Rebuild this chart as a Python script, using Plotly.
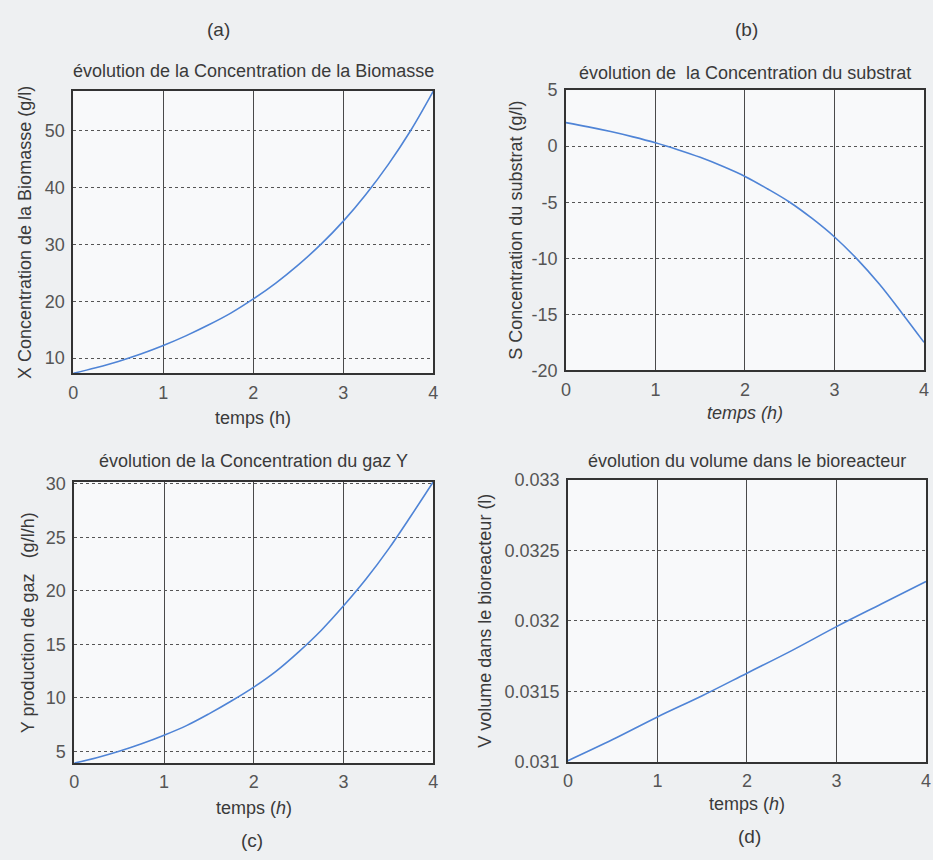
import plotly.graph_objects as go

# ---------------- data ----------------
t = [0, 0.25, 0.5, 0.75, 1, 1.25, 1.5, 1.75, 2, 2.25, 2.5, 2.75, 3, 3.25, 3.5, 3.75, 4]
biomasse = [7.3, 8.3, 9.4, 10.7, 12.2, 13.9, 15.8, 17.9, 20.4, 23.2, 26.4, 30.0, 34.1, 38.8, 44.1, 50.1, 57.0]
substrat = [2.1, 1.72, 1.3, 0.83, 0.3, -0.32, -1.0, -1.8, -2.7, -3.8, -5.0, -6.45, -8.1, -10.05, -12.3, -14.85, -17.5]
gaz = [3.9, 4.4, 5.0, 5.7, 6.5, 7.4, 8.5, 9.7, 11.0, 12.5, 14.3, 16.3, 18.6, 21.1, 23.9, 27.0, 30.2]
t_vol = [0, 0.5, 1, 1.5, 2, 2.5, 3, 3.5, 4]
volume = [0.03101, 0.03116, 0.03132, 0.03147, 0.03163, 0.03179, 0.03196, 0.03212, 0.03228]

x_ticks = [0, 1, 2, 3, 4]
x_ticklabels = ["0", "1", "2", "3", "4"]
a_ticks = [10, 20, 30, 40, 50]
b_ticks = [-20, -15, -10, -5, 0, 5]
c_ticks = [5, 10, 15, 20, 25, 30]
d_ticks = [0.031, 0.0315, 0.032, 0.0325, 0.033]
d_ticklabels = ["0.031", "0.0315", "0.032", "0.0325", "0.033"]

titles = ["évolution de la Concentration de la Biomasse",
          "évolution de  la Concentration du substrat",
          "évolution de la Concentration du gaz Y",
          "évolution du volume dans le bioreacteur"]
ylabels = ["X Concentration de la Biomasse (g/l)",
           "S Concentration du substrat (g/l)",
           "Y production de gaz   (g/l/h)",
           "V volume dans le bioreacteur (l)"]
xlabels = ["temps (h)", "<i>temps (h)</i>", "temps (<i>h</i>)", "temps (<i>h</i>)"]
panel_tags = ["(a)", "(b)", "(c)", "(d)"]

# ---------------- layout geometry ----------------
W, H = 933, 860
FONT = "Liberation Sans Narrow, Liberation Sans, Arial, sans-serif"
LINE = "#4f84d6"
TXT = "#3a3a3a"

def px_x(v):
    return v / W

def px_y(v):
    return 1 - v / H

# pixel boxes: (left, right, top, bottom)
boxes = [(69, 433, 83, 372), (567, 929, 82, 369), (70, 433, 483, 771), (569, 931, 481, 770)]

fig = go.Figure()
series = [(t, biomasse), (t, substrat), (t, gaz), (t_vol, volume)]
for i, (xs, ys) in enumerate(series):
    fig.add_trace(go.Scatter(x=xs, y=ys, mode="lines", line=dict(color=LINE, width=1.6, shape="spline"),
                             xaxis="x" if i == 0 else f"x{i+1}",
                             yaxis="y" if i == 0 else f"y{i+1}", showlegend=False))

yranges = [[7.3, 57.0], [-20, 5], [3.9, 30.2], [0.031, 0.033]]
ytickvals = [a_ticks, b_ticks, c_ticks, d_ticks]
yticktexts = [[str(v) for v in a_ticks], [str(v) for v in b_ticks], [str(v) for v in c_ticks], d_ticklabels]

layout = dict(width=W, height=H, margin=dict(l=0, r=0, t=0, b=0),
              paper_bgcolor="#eef0f2", plot_bgcolor="#f8f9fa",
              font=dict(family=FONT, color=TXT, size=18), showlegend=False)

annotations = []
xlabel_off = [46, 44, 46, 43]
title_y = [62, 65, 462, 462]
ylab_x = [20, 517, 24, 485]
for i, (l, r, tp, bt) in enumerate(boxes):
    sx = "" if i == 0 else str(i + 1)
    layout[f"xaxis{sx}"] = dict(domain=[px_x(l), px_x(r)], range=[0, 4], anchor=f"y{sx}",
                                tickvals=x_ticks, ticktext=x_ticklabels,
                                showgrid=True, gridcolor="#4a4a4a", gridwidth=1.3,
                                showline=True, linecolor="#333333", linewidth=1.6, mirror=True,
                                zeroline=False, ticks="", ticklabelstandoff=2,
                                tickfont=dict(size=18, color="#555555", family=FONT))
    layout[f"yaxis{sx}"] = dict(domain=[px_y(bt), px_y(tp)], range=yranges[i], anchor=f"x{sx}",
                                tickvals=ytickvals[i], ticktext=yticktexts[i],
                                showgrid=True, gridcolor="#555555", gridwidth=1.2, griddash="dot",
                                showline=True, linecolor="#333333", linewidth=1.6, mirror=True,
                                zeroline=False, ticks="", ticklabelstandoff=3,
                                tickfont=dict(size=18, color="#555555", family=FONT))
    cx = (l + r) / 2
    cy = (tp + bt) / 2
    annotations.append(dict(text=titles[i], x=px_x(cx), y=px_y(title_y[i]), xref="paper", yref="paper",
                            showarrow=False, font=dict(size=18, color=TXT, family=FONT),
                            xanchor="center", yanchor="middle"))
    annotations.append(dict(text=xlabels[i], x=px_x(cx), y=px_y(bt + xlabel_off[i]), xref="paper", yref="paper",
                            showarrow=False, font=dict(size=18, color=TXT, family=FONT),
                            xanchor="center", yanchor="middle"))
    annotations.append(dict(text=ylabels[i], x=px_x(ylab_x[i]), y=px_y(cy), xref="paper", yref="paper",
                            showarrow=False, textangle=-90, font=dict(size=18, color=TXT, family=FONT),
                            xanchor="center", yanchor="middle"))

tag_pos = [(216, 20), (750, 20), (250, 850), (753, 846)]
for tag, (x, y) in zip(panel_tags, tag_pos):
    annotations.append(dict(text=tag, x=px_x(x), y=px_y(y), xref="paper", yref="paper",
                            showarrow=False, font=dict(size=19, color=TXT, family=FONT),
                            xanchor="center", yanchor="middle"))

layout["annotations"] = annotations
fig.update_layout(**layout)
fig.write_html("out.html")
